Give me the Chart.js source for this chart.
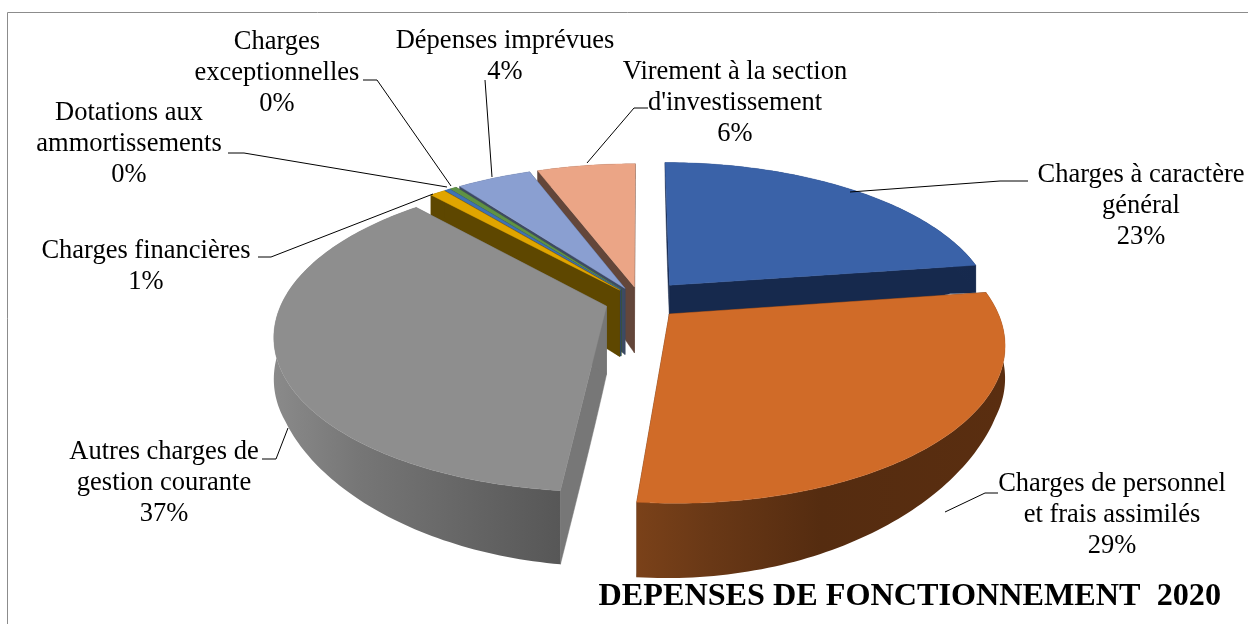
<!DOCTYPE html>
<html><head><meta charset="utf-8">
<style>html,body{margin:0;padding:0;background:#fff}canvas{display:block}</style>
<script src="https://cdn.jsdelivr.net/npm/chart.js@4"></script>
</head><body><canvas id="c" width="1248" height="624"></canvas>
<script>
const categories = [
  ['Charges à caractère','général'],
  ['Charges de personnel','et frais assimilés'],
  ['Autres charges de','gestion courante'],
  ['Charges financières'],
  ['Dotations aux','ammortissements'],
  ['Charges','exceptionnelles'],
  ['Dépenses imprévues'],
  ["Virement à la section","d'investissement"]
];
const values = [22.7, 28.8, 36.6, 0.9, 0.3, 0.4, 4.4, 5.8];
const titleText = 'DEPENSES DE FONCTIONNEMENT  2020';

const topColors = ['#3A62A8','#D06B28','#8E8E8E','#E0A500','#3F72B4','#5F9245','#8A9FD1','#EBA586'];
const sideColors = ['#16294D','#5A2E10','#777777','#5E4700','#2B4A78','#3B5A2C','#3D4A63','#63463A'];
const wallStops = [
  [[0,'#1B315C'],[1,'#16294D']],
  [[0,'#7A4119'],[0.2,'#693816'],[0.5,'#552C10'],[1,'#5A2E10']],
  [[0,'#8A8A8A'],[0.3,'#767676'],[1,'#575757']],
  [[0,'#5E4700'],[1,'#5E4700']],
  [[0,'#2B4A78'],[1,'#2B4A78']],
  [[0,'#3B5A2C'],[1,'#3B5A2C']],
  [[0,'#3D4A63'],[1,'#3D4A63']],
  [[0,'#63463A'],[1,'#63463A']]
];
const sliceOffsets = [38,33,29,26,26,26,26,26];
const apexDepthScale = [0.55,1,1,1,1,1,1,1];
const paintOrder = [7,6,5,4,3,0,2,1];

// label layout: centre x, first line y, leader polyline
const labelX = [1141,1112,164,146,129,277,505,735];
const labelY = [175,484,452,251,113,42,41,72];
const lineStep = 31;
const leaders = [
  [[1028,181],[1000,181],[850,192]],
  [[998,493],[985,493],[945,512]],
  [[262,459],[276,459],[288,428]],
  [[258,257],[271,257],[433,194]],
  [[228,153],[244,153],[447,187]],
  [[363,80],[377,80],[451,186]],
  [[485,80],[492,177]],
  [[648,108],[634,108],[587,163]]
];

// view parameters of the tilted pie
const view = {cx:640, cy:301, rx:324, ry:150, persp:0.18};
function project(wx, wy){
  const w = 1/(1 - view.persp*wy);
  return [view.cx + view.rx*wx*w, view.cy + view.ry*wy*w];
}
function depthAt(wx, wy){
  const g = 75 - 7*Math.pow(Math.max(0,1-wy),2.9);
  const h = 1 - (wx<0?0.42:0.55)*Math.min(1,wx*wx);
  return Math.max(8, g*h);
}
function sliceGeom(arc){
  const a = arc.startAngle, b = arc.endAngle, m = (a+b)/2;
  const o = (arc.options.offset||0)/arc.outerRadius;
  return {a,b,ox:Math.cos(m)*o,oy:Math.sin(m)*o};
}
function polygon(ctx, pts){
  ctx.beginPath();
  pts.forEach((p,i)=> i?ctx.lineTo(p[0],p[1]):ctx.moveTo(p[0],p[1]));
  ctx.closePath();
}
function rimSamples(g){
  const n = Math.max(2, Math.ceil((g.b-g.a)/(Math.PI/180)));
  const out = [];
  for(let i=0;i<=n;i++){
    const t = g.a+(g.b-g.a)*i/n;
    out.push([g.ox+Math.cos(t), g.oy+Math.sin(t)]);
  }
  return out;
}
function radialWall(ctx,g,t,color,apexScale){
  const top=[],bot=[];
  for(let i=0;i<=24;i++){
    const s=i/24;
    const wx=g.ox+Math.cos(t)*s, wy=g.oy+Math.sin(t)*s;
    const p=project(wx,wy);
    top.push(p); bot.unshift([p[0],p[1]+depthAt(wx,wy)*(apexScale+(1-apexScale)*s)]);
  }
  polygon(ctx,top.concat(bot));
  ctx.fillStyle=color; ctx.fill();
  ctx.strokeStyle=color; ctx.lineWidth=0.5; ctx.stroke();
}
function drawSlice(ctx,arc,i){
  const g=sliceGeom(arc);
  radialWall(ctx,g,g.a,sideColors[i],apexDepthScale[i]);
  radialWall(ctx,g,g.b,sideColors[i],apexDepthScale[i]);
  const rim=rimSamples(g);
  const top=rim.map(w=>project(w[0],w[1]));
  const bot=rim.map((w,k)=>[top[k][0],top[k][1]+depthAt(w[0],w[1])]).reverse();
  const xs=top.map(p=>p[0]);
  const x0=Math.min(...xs), x1=Math.max(...xs);
  const grad=ctx.createLinearGradient(x0,0,Math.max(x1,x0+1),0);
  wallStops[i].forEach(s=>grad.addColorStop(s[0],s[1]));
  polygon(ctx,top.concat(bot));
  ctx.fillStyle=grad; ctx.fill();
  const face=[project(g.ox,g.oy)].concat(top);
  polygon(ctx,face);
  ctx.fillStyle=arc.options.backgroundColor; ctx.fill();
  ctx.strokeStyle=arc.options.backgroundColor; ctx.lineWidth=0.4; ctx.stroke();
}
const pie3d = {
  id:'pie3d',
  beforeDraw(chart){
    const ctx=chart.ctx;
    ctx.save();
    ctx.fillStyle='#fff'; ctx.fillRect(0,0,chart.width,chart.height);
    ctx.strokeStyle='#8c8c8c'; ctx.lineWidth=1;
    ctx.beginPath(); ctx.moveTo(7.5,chart.height); ctx.lineTo(7.5,12.5); ctx.lineTo(chart.width,12.5); ctx.stroke();
    ctx.restore();
  },
  beforeDatasetDraw(chart,args){
    const ctx=chart.ctx, arcs=args.meta.data;
    ctx.save();
    paintOrder.forEach(i=>drawSlice(ctx,arcs[i],i));
    ctx.restore();
    return false;
  },
  afterDatasetsDraw(chart){
    const ctx=chart.ctx;
    const data=chart.data.datasets[0].data;
    const total=data.reduce((s,v)=>s+v,0);
    ctx.save();
    ctx.strokeStyle='#000'; ctx.lineWidth=1;
    leaders.forEach(l=>{
      ctx.beginPath();
      l.forEach((p,k)=>k?ctx.lineTo(p[0],p[1]):ctx.moveTo(p[0],p[1]));
      ctx.stroke();
    });
    ctx.fillStyle='#000';
    ctx.font='26.5px "Liberation Serif"';
    ctx.textAlign='center'; ctx.textBaseline='middle';
    chart.data.labels.forEach((lines,i)=>{
      const rows=lines.concat([Math.round(data[i]/total*100)+'%']);
      rows.forEach((t,k)=>ctx.fillText(t,labelX[i],labelY[i]+k*lineStep));
    });
    ctx.restore();
  }
};
new Chart(document.getElementById('c'),{
  type:'pie',
  data:{labels:categories,datasets:[{data:values,backgroundColor:topColors,borderWidth:0,offset:sliceOffsets}]},
  options:{
    responsive:false,animation:false,
    layout:{padding:{right:27,bottom:8}},
    plugins:{
      legend:{display:false},tooltip:{enabled:false},
      title:{display:true,text:titleText,position:'bottom',align:'end',color:'#000',
        font:{family:'"Liberation Serif"',size:32.2,weight:'bold'},padding:{top:4,bottom:0}}
    }
  },
  plugins:[pie3d]
});
</script></body></html>
